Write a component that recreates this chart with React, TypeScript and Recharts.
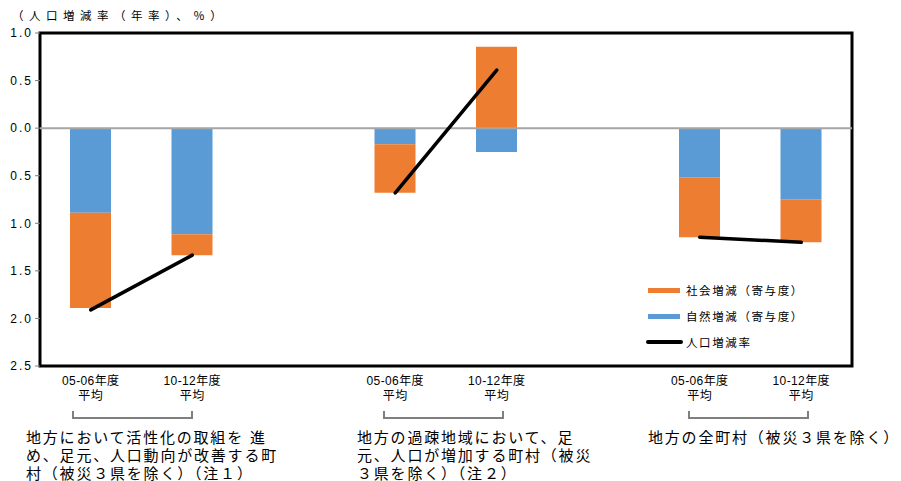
import React from "react";
import {
  ComposedChart,
  Bar,
  Line,
  XAxis,
  YAxis,
  ReferenceLine,
  ReferenceArea,
} from "recharts";

const categories = [
  "05-06年度\n平均",
  "10-12年度\n平均",
  "",
  "05-06年度\n平均",
  "10-12年度\n平均",
  "",
  "05-06年度\n平均",
  "10-12年度\n平均",
];
const naturalChange = [-0.89, -1.115, null, -0.17, -0.25, null, -0.515, -0.747];
const socialChange = [-1.0, -0.22, null, -0.51, 0.855, null, -0.631, -0.453];
const populationRate = [-1.91, -1.335, null, -0.68, 0.61, null, -1.146, -1.2];
const yTicks = [1.0, 0.5, 0.0, -0.5, -1.0, -1.5, -2.0, -2.5];

const legendItems = [
  { label: "社会増減（寄与度）", color: "#ED7D31", kind: "bar" },
  { label: "自然増減（寄与度）", color: "#5B9BD5", kind: "bar" },
  { label: "人口増減率", color: "#000000", kind: "line" },
];

const groupNotes = [
  ["地方において活性化の取組を 進", "め、足元、人口動向が改善する町", "村（被災３県を除く）（注１）"],
  ["地方の過疎地域において、足", "元、人口が増加する町村（被災", "３県を除く）（注２）"],
  ["地方の全町村（被災３県を除く）"],
];

const data = categories.map((c, i) => ({
  cat: c,
  natural: naturalChange[i],
  social: socialChange[i],
  rate: populationRate[i],
}));

const FONT = "'Liberation Sans', Arial, 'Noto Sans CJK JP', sans-serif";

const XTick = (props: any) => {
  const { x, y, payload } = props;
  const lines = String(payload.value || "").split("\n").filter((s) => s);
  return (
    <g>
      {lines.map((l, i) => (
        <text
          key={i}
          x={x}
          y={y}
          dy={11 + i * 15}
          textAnchor="middle"
          fontSize={12}
          fontFamily={FONT}
          fill="#000"
          letterSpacing={0.4}
        >
          {l}
        </text>
      ))}
    </g>
  );
};

const LegendBox = () => (
  <div
    style={{
      position: "absolute",
      left: 646,
      top: 277,
      fontFamily: FONT,
      fontSize: 11.5,
      color: "#000",
    }}
  >
    {legendItems.map((it, i) => (
      <div
        key={i}
        style={{ display: "flex", alignItems: "center", height: 26, letterSpacing: 1.6, whiteSpace: "nowrap" }}
      >
        {it.kind === "bar" ? (
          <span
            style={{
              display: "inline-block",
              width: 32,
              height: 5,
              background: it.color,
              marginLeft: 2,
              marginRight: 6,
            }}
          />
        ) : (
          <span
            style={{
              display: "inline-block",
              width: 37,
              height: 3.5,
              borderRadius: 2,
              background: it.color,
              marginRight: 3,
            }}
          />
        )}
        <span>{it.label}</span>
      </div>
    ))}
  </div>
);

const brackets = [
  { left: 72, width: 121 },
  { left: 383, width: 121 },
  { left: 688, width: 121 },
];
const noteLefts = [26, 357, 648];

export default function App() {
  return (
    <div
      style={{
        position: "absolute",
        left: 0,
        top: 0,
        width: 901,
        height: 481,
        background: "#fff",
        overflow: "hidden",
      }}
    >
      <div
        style={{
          position: "absolute",
          left: 12,
          top: 7,
          fontFamily: FONT,
          fontSize: 11.5,
          letterSpacing: 5.5,
          color: "#000",
          whiteSpace: "nowrap",
        }}
      >
        （人口増減率（年率）、％）
      </div>
      <ComposedChart
        width={901}
        height={481}
        data={data}
        stackOffset="sign"
        margin={{ top: 33, right: 49, bottom: 85, left: 8 }}
        barCategoryGap={0}
      >
        <XAxis
          dataKey="cat"
          axisLine={false}
          tickLine={false}
          tick={<XTick />}
          interval={0}
          height={30}
        />
        <YAxis
          type="number"
          domain={[-2.5, 1]}
          ticks={yTicks}
          width={32}
          axisLine={false}
          tickLine={{ stroke: "#808080" }}
          tickSize={5}
          tickMargin={2}
          interval={0}
          tickFormatter={(v: number) => Math.abs(v).toFixed(1)}
          tick={{ fontSize: 12, fill: "#000", fontFamily: FONT, letterSpacing: 2 }}
        />
        <Bar dataKey="natural" stackId="a" fill="#5B9BD5" barSize={41} isAnimationActive={false} />
        <Bar dataKey="social" stackId="a" fill="#ED7D31" barSize={41} isAnimationActive={false} />
        <ReferenceLine y={0} stroke="#a6a6a6" strokeWidth={2} />
        <Line
          dataKey="rate"
          stroke="#000"
          strokeWidth={3.5}
          dot={false}
          connectNulls={false}
          strokeLinecap="round"
          isAnimationActive={false}
        />
        <ReferenceArea
          y1={-2.5}
          y2={1}
          fill="none"
          fillOpacity={0}
          stroke="#000"
          strokeWidth={3}
          ifOverflow="visible"
        />
      </ComposedChart>
      <LegendBox />
      {brackets.map((b, i) => (
        <div
          key={i}
          style={{
            position: "absolute",
            left: b.left,
            top: 411,
            width: b.width - 4,
            height: 6,
            borderLeft: "2px solid #7f7f7f",
            borderRight: "2px solid #7f7f7f",
            borderBottom: "2px solid #7f7f7f",
          }}
        />
      ))}
      {groupNotes.map((lines, i) => (
        <div
          key={i}
          style={{
            position: "absolute",
            left: noteLefts[i],
            top: 429,
            fontFamily: FONT,
            fontSize: 15,
            lineHeight: "18px",
            letterSpacing: 1.8,
            color: "#000",
            whiteSpace: "nowrap",
          }}
        >
          {lines.map((l, j) => (
            <div key={j}>{l}</div>
          ))}
        </div>
      ))}
    </div>
  );
}
